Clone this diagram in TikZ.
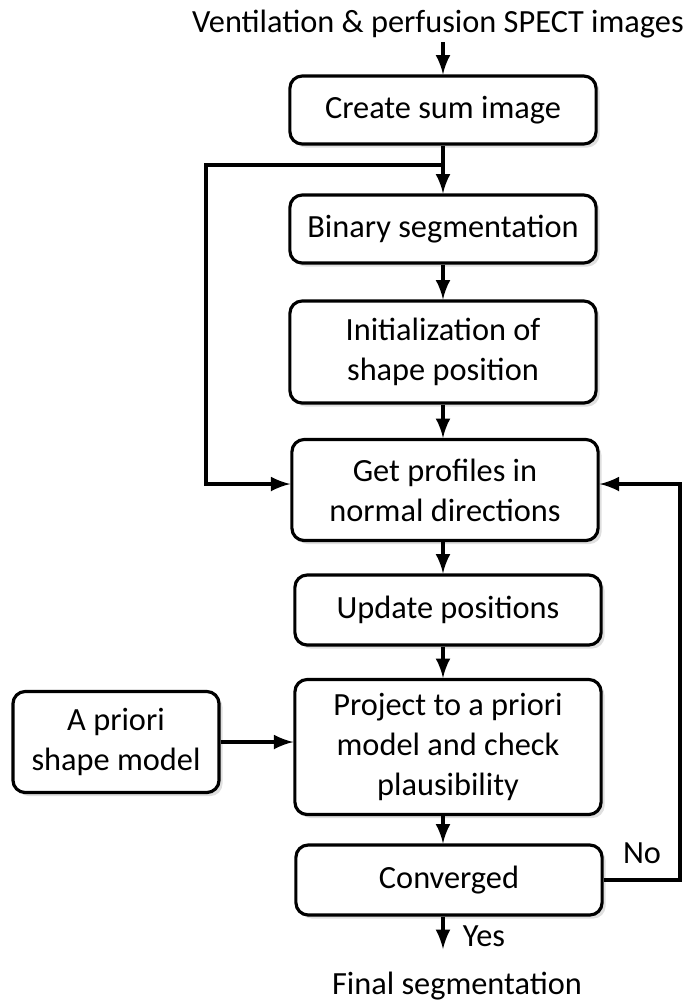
\documentclass[tikz,border=0pt]{standalone}
\usepackage{fontspec}
\setmainfont{Carlito}
\usetikzlibrary{arrows,shadows}

\begin{document}
\begin{tikzpicture}[x=0.01cm, y=-0.01cm, font=\fontsize{9.2}{11.4}\selectfont]
    \tikzstyle{box_step} = [draw=black, line width=0.9pt, rounded corners=3.5pt, fill=white, align=center, minimum width=3.06cm, drop shadow={opacity=0.25, shadow xshift=1pt, shadow yshift=-1pt}]
    \tikzstyle{arrow_black} = [->, black, line width=0.9pt, >=latex]
    \tikzstyle{line_black} = [black, line width=0.9pt]
    \tikzstyle{text_plain} = [draw=none, inner sep=1pt]

    \useasboundingbox (0,0) rectangle (700,1002);

    \node[text_plain] (nInput) at (438,24) {Ventilation \& perfusion SPECT images};
    \node[box_step, minimum height=0.68cm] (nSum) at (443,110) {Create sum image};
    \node[box_step, minimum height=0.68cm] (nBinary) at (443,229) {Binary segmentation};
    \node[box_step, minimum height=1.02cm] (nInit) at (443,352) {Initialization of\\shape position};
    \node[box_step, minimum height=1.01cm] (nProfiles) at (445,490) {Get profiles in\\normal directions};
    \node[box_step, minimum height=0.70cm] (nUpdate) at (448,610) {Update positions};
    \node[box_step, minimum height=1.35cm] (nProject) at (448,747) {Project to a priori\\model and check\\plausibility};
    \node[box_step, minimum width=2.06cm, minimum height=1.01cm] (nPrior) at (116,742) {A priori\\shape model};
    \node[box_step, minimum height=0.70cm] (nConv) at (449,880) {Converged};
    \node[text_plain] (nFinal) at (457,986) {Final segmentation};
    \node[text_plain] (nYes) at (484,936) {Yes};
    \node[text_plain] (nNo) at (642,853) {No};

    \coordinate (cSplit) at (443,165);
    \coordinate (cLeftTop) at (206,165);
    \coordinate (cLeftBot) at (206,484);
    \coordinate (cRightBot) at (680,880);
    \coordinate (cRightTop) at (680,484);
    \coordinate (cEnd) at (443,949);

    \draw[arrow_black] (nInput.south -| cSplit) -- (nSum.north -| cSplit);
    \draw[line_black] (nSum.south -| cSplit) -- (cSplit);
    \draw[arrow_black] (cSplit) -- (nBinary.north -| cSplit);
    \draw[arrow_black] (nBinary.south -| cSplit) -- (nInit.north -| cSplit);
    \draw[arrow_black] (nInit.south -| cSplit) -- (nProfiles.north -| cSplit);
    \draw[arrow_black] (nProfiles.south -| cSplit) -- (nUpdate.north -| cSplit);
    \draw[arrow_black] (nUpdate.south -| cSplit) -- (nProject.north -| cSplit);
    \draw[arrow_black] (nProject.south -| cSplit) -- (nConv.north -| cSplit);
    \draw[arrow_black] (nPrior.east) -- (nPrior.east -| nProject.west);
    \draw[arrow_black] (nConv.south -| cSplit) -- (cEnd);

    % loop back into the profiles step
    \draw[arrow_black] (cSplit) -- (cLeftTop) -- (cLeftBot) -- (cLeftBot -| nProfiles.west);
    \draw[arrow_black] (nConv.east) -- (cRightBot) -- (cRightTop) -- (cRightTop -| nProfiles.east);

\end{tikzpicture}
\end{document}
